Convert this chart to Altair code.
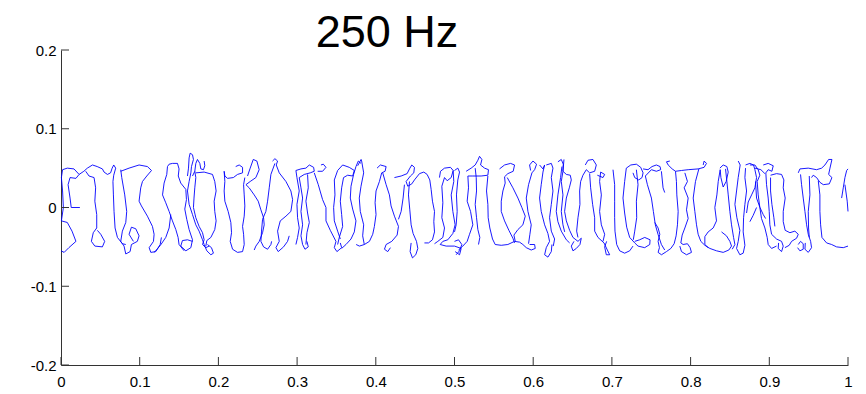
import altair as alt
import pandas as pd

title_text = "250 Hz"
x_ticks = [0, 0.1, 0.2, 0.3, 0.4, 0.5, 0.6, 0.7, 0.8, 0.9, 1.0]
y_ticks = [-0.2, -0.1, 0, 0.1, 0.2]

# traced path pieces (x, y)
s01 = [(0.000,-0.055),(0.004,-0.057),(0.010,-0.051),(0.019,-0.043),(0.014,-0.030),(0.008,-0.019),(0.0005,-0.017),(0.003,0.000),(0.002,0.021),(0.0005,0.038),(0.002,0.048),(0.008,0.050),(0.0165,0.049),(0.023,0.042),(0.019,0.037),(0.0115,0.038),(0.009,0.029),(0.0115,0.012),(0.013,0.000),(0.024,0.000)]
s02 = [(0.023,0.042),(0.029,0.046),(0.0335,0.050),(0.040,0.054),(0.046,0.052),(0.0526,0.049),(0.0547,0.045),(0.059,0.042),(0.063,0.044),(0.065,0.050),(0.067,0.054),(0.0695,0.050),(0.067,0.041),(0.066,0.033),(0.0666,0.016),(0.0674,-0.005),(0.0687,-0.026),(0.0717,-0.038),(0.078,-0.046),(0.0823,-0.047)]
s03 = [(0.0314,0.046),(0.0356,0.040),(0.042,0.038),(0.044,0.025),(0.043,0.008),(0.0454,-0.009),(0.0454,-0.026),(0.041,-0.032),(0.0386,-0.043),(0.043,-0.049),(0.0526,-0.050),(0.0555,-0.043),(0.0505,-0.034),(0.0462,-0.029)]
s04 = [(0.0759,0.046),(0.0865,0.050),(0.0992,0.054),(0.1098,0.052),(0.115,0.047),(0.109,0.040),(0.1035,0.033),(0.1013,0.025),(0.0992,0.008),(0.1022,0.002),(0.1098,-0.011),(0.1162,-0.024),(0.1183,-0.034),(0.1175,-0.043),(0.112,-0.051),(0.1141,-0.057),(0.1204,-0.056),(0.126,-0.047),(0.1276,-0.038)]
s05 = [(0.0759,0.048),(0.0772,0.038),(0.081,0.016),(0.0835,-0.005),(0.0823,-0.019),(0.078,-0.030),(0.0759,-0.043),(0.0801,-0.049),(0.0823,-0.059),(0.0878,-0.056),(0.0895,-0.047),(0.097,-0.043),(0.0992,-0.036),(0.095,-0.027),(0.0895,-0.025),(0.0865,-0.034),(0.092,-0.043)]
s06 = [(0.1353,0.052),(0.1374,0.055),(0.1416,0.056),(0.148,0.056),(0.150,0.049),(0.149,0.040),(0.1522,0.031),(0.1586,0.023),(0.1594,0.010),(0.1573,-0.002),(0.1598,-0.015),(0.1628,-0.028),(0.1671,-0.041),(0.165,-0.051),(0.1586,-0.055),(0.1522,-0.049),(0.1543,-0.042),(0.1607,-0.041),(0.1671,-0.043)]
s07 = [(0.1353,0.052),(0.1344,0.042),(0.131,0.031),(0.129,0.016),(0.1331,0.006),(0.1374,-0.005),(0.1416,-0.017),(0.1459,-0.028),(0.1488,-0.038),(0.150,-0.047),(0.1565,-0.055)]
s08 = [(0.1395,-0.009),(0.1374,-0.026),(0.1331,-0.038),(0.127,-0.047),(0.1204,-0.055),(0.118,-0.057)]
s09 = [(0.1607,0.040),(0.162,0.050),(0.1628,0.063),(0.1641,0.069),(0.1671,0.067),(0.1683,0.061),(0.1658,0.052),(0.165,0.044),(0.1628,0.033),(0.1607,0.021),(0.1628,0.004),(0.1671,-0.009),(0.1713,-0.022),(0.1755,-0.030),(0.1798,-0.041),(0.1819,-0.047),(0.1853,-0.055),(0.1904,-0.060),(0.1937,-0.058),(0.1912,-0.051),(0.1861,-0.047)]
s10 = [(0.1671,0.040),(0.170,0.046),(0.1713,0.056),(0.1734,0.061),(0.1764,0.056),(0.1777,0.049),(0.181,0.048),(0.1827,0.053),(0.1819,0.059)]
s11 = [(0.170,0.046),(0.1713,0.038),(0.170,0.025),(0.169,0.012),(0.1683,0.000),(0.1713,-0.013),(0.1755,-0.024),(0.1798,-0.032),(0.1819,-0.041),(0.1798,-0.047),(0.184,-0.051),(0.1882,-0.049)]
s12 = [(0.1713,0.044),(0.1819,0.045),(0.1925,0.042),(0.1954,0.033),(0.1971,0.021),(0.1946,0.008),(0.1954,-0.005),(0.1971,-0.017),(0.1954,-0.028),(0.1904,-0.038),(0.1853,-0.042),(0.184,-0.049)]
s13 = [(0.222,0.052),(0.2264,0.054),(0.2307,0.051),(0.2307,0.044),(0.2243,0.042),(0.219,0.038),(0.2116,0.037),(0.2082,0.040),(0.2073,0.046),(0.2082,0.033),(0.2073,0.021),(0.2082,0.008),(0.2124,-0.005),(0.2158,-0.019),(0.2167,-0.032),(0.215,-0.043),(0.218,-0.053),(0.2243,-0.057),(0.2307,-0.056),(0.2328,-0.047),(0.232,-0.034),(0.2307,-0.024),(0.2328,-0.011),(0.2336,0.002),(0.2328,0.016),(0.232,0.029),(0.2336,0.038)]
s14 = [(0.237,0.040),(0.2404,0.050),(0.2443,0.061),(0.2489,0.059),(0.2518,0.048),(0.2476,0.038),(0.2404,0.033),(0.235,0.029),(0.2391,0.025),(0.2455,0.016),(0.2506,0.008),(0.254,-0.003),(0.2574,-0.013),(0.2582,-0.022),(0.2561,-0.032),(0.2519,-0.043),(0.2476,-0.049),(0.2455,-0.054)]
s15 = [(0.2688,0.059),(0.2718,0.062),(0.2752,0.059),(0.2735,0.054),(0.2773,0.044),(0.2858,0.033),(0.2921,0.021),(0.2943,0.010),(0.2921,-0.005),(0.2858,-0.011),(0.2786,-0.017),(0.2752,-0.030),(0.2773,-0.043),(0.2731,-0.051),(0.276,-0.056),(0.2828,-0.050),(0.2879,-0.043),(0.29,-0.036)]
s16 = [(0.2718,0.056),(0.2667,0.042),(0.2646,0.025),(0.2625,0.008),(0.2603,-0.005),(0.2561,-0.015),(0.2548,-0.030),(0.254,-0.043),(0.2574,-0.050),(0.2625,-0.053),(0.2667,-0.047),(0.2676,-0.043)]
s17 = [(0.2985,0.047),(0.3049,0.049),(0.3112,0.050),(0.3155,0.054),(0.321,0.051),(0.3218,0.046),(0.3167,0.044),(0.3091,0.042),(0.3027,0.038),(0.3049,0.025),(0.307,0.012),(0.3049,-0.005),(0.307,-0.022),(0.3049,-0.036),(0.307,-0.047),(0.31,-0.053),(0.3142,-0.050),(0.3125,-0.043)]
s18 = [(0.3133,0.042),(0.3142,0.025),(0.3112,0.008),(0.3133,-0.007),(0.3155,-0.019),(0.3125,-0.032),(0.3112,-0.047)]
s19 = [(0.2985,0.047),(0.2998,0.038),(0.3027,0.021),(0.2998,0.004),(0.3006,-0.013),(0.3027,-0.026),(0.3006,-0.038),(0.2985,-0.047)]
s20 = [(0.3261,0.046),(0.3324,0.046),(0.3367,0.051),(0.3333,0.055),(0.3303,0.054)]
s21 = [(0.3218,0.044),(0.3269,0.029),(0.3324,0.010),(0.3367,0.000),(0.3367,-0.017),(0.3422,-0.029),(0.3494,-0.043),(0.3473,-0.051),(0.3506,-0.056),(0.3566,-0.051),(0.3549,-0.045)]
s22 = [(0.3473,0.035),(0.3515,0.047),(0.3579,0.054),(0.3663,0.051),(0.3727,0.047),(0.3706,0.040),(0.3642,0.041),(0.359,0.038),(0.3566,0.025),(0.3549,0.008),(0.3566,-0.009),(0.3579,-0.024),(0.3536,-0.038),(0.3515,-0.047)]
s23 = [(0.3473,0.035),(0.3481,0.016),(0.3464,0.000),(0.3473,-0.017),(0.3515,-0.030),(0.3549,-0.040)]
s24 = [(0.3812,0.056),(0.3778,0.059),(0.3748,0.052),(0.3718,0.042),(0.3685,0.027),(0.3676,0.012),(0.3706,-0.002),(0.3748,-0.017),(0.3727,-0.031),(0.3685,-0.040),(0.3621,-0.047),(0.3566,-0.052)]
s25 = [(0.3770,0.053),(0.3813,0.061),(0.382,0.059),(0.3846,0.044),(0.3812,0.027),(0.379,0.012),(0.3803,-0.005),(0.3846,-0.022),(0.3833,-0.036),(0.3854,-0.047)]
s26 = [(0.4016,0.050),(0.4058,0.054),(0.4131,0.052),(0.4118,0.046),(0.4075,0.044),(0.4046,0.033),(0.4003,0.021),(0.3991,0.006),(0.4003,-0.009),(0.3982,-0.024),(0.3961,-0.034),(0.3919,-0.043),(0.3855,-0.047),(0.3792,-0.049),(0.375,-0.047)]
s27 = [(0.4088,0.044),(0.4131,0.029),(0.4173,0.016),(0.4194,0.002),(0.4237,-0.011),(0.4288,-0.024),(0.4271,-0.035),(0.4203,-0.043),(0.4131,-0.047),(0.411,-0.053),(0.4152,-0.056),(0.4186,-0.051)]
s28 = [(0.4237,0.038),(0.4322,0.040),(0.4398,0.043),(0.4428,0.049),(0.4457,0.054),(0.4491,0.051),(0.4483,0.044),(0.444,0.040),(0.4385,0.033),(0.4406,0.027),(0.4457,0.030),(0.4491,0.035),(0.4555,0.043),(0.461,0.045),(0.4652,0.042),(0.4686,0.035),(0.4703,0.023),(0.472,0.008),(0.4746,-0.005),(0.4737,-0.018),(0.4746,-0.031),(0.472,-0.041),(0.467,-0.045),(0.4618,-0.045)]
s29 = [(0.4428,0.033),(0.4415,0.016),(0.4432,-0.003),(0.4449,-0.022),(0.4474,-0.033),(0.4517,-0.043),(0.4534,-0.052),(0.4508,-0.060),(0.4466,-0.064),(0.4436,-0.056),(0.4449,-0.045)]
s30 = [(0.4364,0.029),(0.4347,0.012),(0.4322,-0.005),(0.4288,-0.015)]
s31 = [(0.4809,0.038),(0.4822,0.046),(0.4873,0.050),(0.4949,0.051),(0.4983,0.047),(0.4958,0.038),(0.4907,0.034),(0.4873,0.038),(0.4839,0.027),(0.4852,0.006),(0.4839,-0.013),(0.4873,-0.026),(0.4852,-0.038),(0.4788,-0.043),(0.4746,-0.046)]
s32 = [(0.4983,0.047),(0.4991,0.033),(0.4958,0.016),(0.4979,-0.005),(0.5008,-0.022),(0.4979,-0.033),(0.4915,-0.041),(0.4852,-0.043),(0.4818,-0.047),(0.4894,-0.049),(0.5,-0.049),(0.5085,-0.052),(0.5064,-0.060),(0.5008,-0.056)]
s33 = [(0.5,0.047),(0.5042,0.050),(0.5064,0.045),(0.5042,0.035),(0.5025,0.016),(0.5034,-0.005),(0.5021,-0.022),(0.5,-0.031)]
s34 = [(0.5,-0.043),(0.5051,-0.041),(0.5093,-0.047),(0.5064,-0.055),(0.5021,-0.060)]
s35 = [(0.5148,0.046),(0.5212,0.050),(0.5263,0.054),(0.5297,0.060),(0.5318,0.065),(0.5348,0.061),(0.5331,0.054),(0.5382,0.050),(0.5432,0.048),(0.5424,0.041),(0.5339,0.040),(0.5233,0.040),(0.517,0.040),(0.5178,0.025),(0.5161,0.008),(0.5204,-0.005),(0.5233,-0.022),(0.5191,-0.034),(0.5161,-0.043),(0.5106,-0.049),(0.5051,-0.054)]
s36 = [(0.5263,0.050),(0.5276,0.038),(0.528,0.021),(0.5263,0.004),(0.528,-0.013),(0.5297,-0.028),(0.5322,-0.038),(0.5305,-0.047)]
s37 = [(0.5424,0.040),(0.5407,0.021),(0.5424,0.004),(0.5428,-0.013),(0.5449,-0.026),(0.5483,-0.040),(0.5517,-0.047),(0.5594,-0.048),(0.5678,-0.047),(0.5763,-0.043),(0.5827,-0.044),(0.5869,-0.047),(0.5912,-0.051),(0.5975,-0.054),(0.6026,-0.052),(0.6018,-0.047),(0.5954,-0.047)]
s38 = [(0.5572,0.049),(0.5636,0.054),(0.5712,0.056),(0.5763,0.054),(0.5746,0.046),(0.5678,0.043),(0.5636,0.039),(0.5644,0.031),(0.5615,0.021),(0.5594,0.008),(0.5594,-0.005),(0.5636,-0.017),(0.5691,-0.029),(0.5742,-0.039),(0.5763,-0.045)]
s39 = [(0.567,0.038),(0.5742,0.025),(0.5806,0.012),(0.5856,0.000),(0.5899,-0.011),(0.5869,-0.022),(0.5806,-0.028),(0.5755,-0.035),(0.5772,-0.043)]
s40 = [(0.5967,0.047),(0.5954,0.054),(0.5997,0.059),(0.6043,0.055),(0.6018,0.048),(0.5984,0.044),(0.5941,0.029),(0.5912,0.012),(0.5933,-0.005),(0.5975,-0.022),(0.5958,-0.034),(0.5941,-0.046)]
s41 = [(0.6081,0.054),(0.6124,0.049),(0.6145,0.054),(0.6124,0.045),(0.6102,0.029),(0.6081,0.012),(0.6102,-0.005),(0.6145,-0.022),(0.6187,-0.033),(0.6208,-0.043),(0.6166,-0.051),(0.6145,-0.060),(0.6187,-0.063),(0.623,-0.056),(0.6238,-0.047)]
s42 = [(0.6166,0.054),(0.623,0.056),(0.6251,0.050),(0.623,0.038),(0.6251,0.021),(0.623,0.004),(0.6208,-0.013),(0.623,-0.030),(0.6272,-0.040),(0.6255,-0.049)]
s43 = [(0.6391,0.061),(0.6378,0.046),(0.6357,0.033),(0.6378,0.016),(0.6357,-0.005),(0.6378,-0.022),(0.64,-0.031)]
s44 = [(0.6314,0.058),(0.6357,0.061),(0.6382,0.055),(0.6378,0.046),(0.6421,0.042),(0.6471,0.041),(0.6484,0.035),(0.6459,0.025),(0.6421,0.012),(0.6399,-0.005),(0.6421,-0.017),(0.6463,-0.029),(0.6505,-0.038),(0.6569,-0.043),(0.6611,-0.039),(0.6594,-0.047),(0.6548,-0.052),(0.6505,-0.055),(0.6484,-0.049),(0.6518,-0.043)]
s45 = [(0.6365,0.052),(0.6348,0.038),(0.6314,0.016),(0.6293,-0.005),(0.6314,-0.018),(0.6357,-0.030),(0.6421,-0.041),(0.6463,-0.045)]
s46 = [(0.6662,0.054),(0.6696,0.060),(0.6759,0.061),(0.6802,0.054),(0.6781,0.046),(0.6717,0.044),(0.6675,0.048),(0.6632,0.041),(0.6603,0.033),(0.659,0.021),(0.6594,0.004),(0.6569,-0.013),(0.6552,-0.030),(0.6569,-0.038)]
s47 = [(0.6717,0.043),(0.6730,0.025),(0.6755,0.004),(0.6781,-0.013),(0.6781,-0.030),(0.6823,-0.038),(0.69,-0.045),(0.6942,-0.054),(0.6972,-0.060),(0.6929,-0.060),(0.6908,-0.050),(0.6933,-0.043)]
s48 = [(0.6815,0.041),(0.6887,0.038),(0.6908,0.042),(0.6857,0.045),(0.6844,0.033),(0.6866,0.016),(0.6844,-0.005),(0.6866,-0.022),(0.6908,-0.034),(0.6887,-0.043)]
s49 = [(0.7014,0.048),(0.7035,0.029),(0.7035,0.008),(0.7035,-0.013),(0.7039,-0.030),(0.7061,-0.047),(0.7099,-0.055),(0.7162,-0.058),(0.7226,-0.055),(0.7268,-0.049)]
s50 = [(0.7268,0.044),(0.729,0.038),(0.7341,0.035),(0.7383,0.038),(0.7396,0.044),(0.7366,0.051),(0.7311,0.055),(0.724,0.054),(0.7183,0.050),(0.7162,0.033),(0.7141,0.012),(0.7162,-0.007),(0.7188,-0.025),(0.7226,-0.038),(0.729,-0.045),(0.7332,-0.049),(0.7417,-0.051),(0.7481,-0.047),(0.7485,-0.041),(0.7417,-0.038),(0.7353,-0.041),(0.729,-0.043)]
s51 = [(0.7311,0.048),(0.7332,0.029),(0.7311,0.008),(0.7315,-0.013),(0.729,-0.030),(0.7272,-0.041)]
s52 = [(0.7396,0.049),(0.7459,0.048),(0.7510,0.052),(0.7565,0.054),(0.7612,0.052),(0.7620,0.048),(0.7565,0.046),(0.7502,0.048),(0.7425,0.040),(0.7451,0.029),(0.7502,0.012),(0.7527,-0.005),(0.7552,-0.022),(0.7586,-0.034),(0.7629,-0.047),(0.7671,-0.054)]
s53 = [(0.7629,0.046),(0.765,0.025),(0.7671,0.019)]
s54 = [(0.7545,-0.019),(0.7587,-0.026),(0.7609,-0.034),(0.7587,-0.043),(0.7604,-0.051),(0.7587,-0.057),(0.763,-0.060),(0.7693,-0.056),(0.7749,-0.052),(0.7791,-0.046),(0.7816,-0.036),(0.7833,-0.022),(0.7842,-0.005),(0.7825,0.016),(0.782,0.033),(0.7808,0.046),(0.7766,0.049),(0.7715,0.054),(0.7693,0.058),(0.7736,0.059)]
s55 = [(0.7808,0.046),(0.7884,0.047),(0.7969,0.048),(0.8096,0.049),(0.8172,0.051),(0.8202,0.056),(0.8172,0.059),(0.8160,0.054)]
s56 = [(0.7927,0.044),(0.796,0.033),(0.7918,0.025),(0.7969,0.012),(0.7948,-0.003),(0.7969,-0.014),(0.7927,-0.026),(0.7893,-0.035),(0.7876,-0.045),(0.7905,-0.047),(0.7960,-0.046),(0.7994,-0.051),(0.8011,-0.057),(0.7948,-0.060),(0.7884,-0.056),(0.7863,-0.049)]
s57 = [(0.8105,0.049),(0.8062,0.033),(0.8033,0.012),(0.8054,-0.005),(0.8075,-0.022),(0.8096,-0.034),(0.813,-0.043),(0.8181,-0.048),(0.8245,-0.052),(0.833,-0.055),(0.8414,-0.057),(0.8486,-0.054),(0.852,-0.049),(0.8499,-0.043),(0.8456,-0.036),(0.8393,-0.031)]
s58 = [(0.8372,0.050),(0.8414,0.054),(0.8461,0.052),(0.8478,0.045),(0.8452,0.033),(0.8414,0.026),(0.8385,0.038),(0.8376,0.048),(0.8351,0.033),(0.8334,0.016),(0.8308,0.000),(0.8329,-0.017),(0.8287,-0.026),(0.8223,-0.031),(0.8181,-0.037),(0.8181,-0.047),(0.8223,-0.051)]
s59 = [(0.8444,0.049),(0.8461,0.033),(0.8478,0.016),(0.8499,-0.005),(0.852,-0.022),(0.8546,-0.038),(0.8563,-0.047),(0.8529,-0.053)]
s60 = [(0.8605,0.059),(0.863,0.054),(0.8605,0.038),(0.8584,0.021),(0.8563,0.004),(0.8588,-0.013),(0.8626,-0.029),(0.8605,-0.043),(0.8584,-0.052),(0.8626,-0.060),(0.8668,-0.058),(0.869,-0.048),(0.8668,-0.031),(0.8673,-0.013),(0.869,0.004),(0.8711,0.021),(0.869,0.038),(0.8698,0.050)]
s61 = [(0.8698,0.054),(0.8753,0.056),(0.88,0.054),(0.8817,0.048),(0.8838,0.038),(0.8817,0.025),(0.8775,0.016),(0.8732,0.007),(0.8711,-0.007)]
s62 = [(0.8817,0.050),(0.8893,0.048),(0.8944,0.043)]
s63 = [(0.8825,0.033),(0.8838,0.012),(0.8881,0.000),(0.8923,-0.009),(0.8953,-0.014)]
s64 = [(0.8753,0.054),(0.8817,0.054),(0.8859,0.048),(0.888,0.041),(0.8846,0.033),(0.8859,0.016),(0.888,0.000),(0.8901,-0.014),(0.8944,-0.026),(0.8973,-0.038),(0.8986,-0.047),(0.9029,-0.052),(0.9092,-0.049)]
s65 = [(0.8753,-0.018),(0.8795,-0.010),(0.8838,0.000)]
s66 = [(0.8923,0.054),(0.8986,0.056),(0.905,0.053),(0.9033,0.046),(0.8986,0.048),(0.8956,0.044),(0.8965,0.029),(0.8986,0.012),(0.8999,-0.005),(0.9007,-0.022),(0.9029,-0.034),(0.9092,-0.040),(0.9156,-0.043),(0.9177,-0.049),(0.9156,-0.056),(0.9113,-0.052),(0.9118,-0.045)]
s67 = [(0.9016,0.041),(0.9092,0.043),(0.9156,0.042),(0.9185,0.035),(0.9177,0.025),(0.9202,0.012),(0.9177,-0.005),(0.9177,-0.018),(0.9202,-0.029),(0.9262,-0.032),(0.9325,-0.030),(0.9368,-0.034),(0.9347,-0.039),(0.9283,-0.043),(0.9253,-0.048),(0.9198,-0.051)]
s68 = [(0.9016,0.038),(0.9016,0.021),(0.9033,0.004),(0.9058,-0.013),(0.9071,-0.024)]
s69 = [(0.9368,0.044),(0.9389,0.049),(0.9495,0.050),(0.9601,0.048),(0.9665,0.050),(0.9707,0.054),(0.9754,0.061),(0.9796,0.061),(0.9771,0.050),(0.9754,0.042),(0.9796,0.038),(0.9762,0.030),(0.9686,0.029),(0.9643,0.032),(0.9601,0.038),(0.9558,0.041),(0.9537,0.038)]
s70 = [(0.9397,0.042),(0.941,0.029),(0.9431,0.012),(0.9453,-0.005),(0.9474,-0.022),(0.9495,-0.034),(0.9525,-0.043),(0.9537,-0.051),(0.9495,-0.057),(0.9453,-0.053),(0.9457,-0.045)]
s71 = [(0.9368,-0.047),(0.9397,-0.043),(0.9431,-0.046),(0.9431,-0.053),(0.9389,-0.055),(0.9359,-0.051)]
s72 = [(0.9508,0.040),(0.9516,0.016),(0.9495,-0.005),(0.9499,-0.026),(0.9508,-0.038)]
s73 = [(0.9622,0.034),(0.9643,0.016),(0.9643,-0.005),(0.9652,-0.022),(0.9669,-0.038),(0.9728,-0.045),(0.9792,-0.047),(0.9855,-0.050),(0.994,-0.051),(1.0,-0.049)]
s74 = [(1.0,0.049),(0.9983,0.047),(0.9961,0.038),(0.994,0.025),(0.9919,0.012)]
s75 = [(0.9961,0.029),(0.999,0.008),(1.0,-0.005)]

pieces = [s01, s02, s03, s04, s05, s06, s07, s08, s09, s10, s11, s12, s13, s14, s15,
          s16, s17, s18, s19, s20, s21, s22, s23, s24, s25, s26, s27, s28, s29, s30,
          s31, s32, s33, s34, s35, s36, s37, s38, s39, s40, s41, s42, s43, s44, s45,
          s46, s47, s48, s49, s50, s51, s52, s53, s54, s55, s56, s57, s58, s59, s60,
          s61, s62, s63, s64, s65, s66, s67, s68, s69, s70, s71, s72, s73, s74, s75]

rows = []
for k, piece in enumerate(pieces):
    for i, (px, py) in enumerate(piece):
        rows.append({"seg": k, "order": i, "x": px, "y": py})
df = pd.DataFrame(rows)

W, H = 787, 315
FONT = "Liberation Sans"
xs = alt.Scale(domain=[0, 1], nice=False, zero=False)
ys = alt.Scale(domain=[-0.2, 0.2], nice=False, zero=False)

x_label = "datum.value == 0 ? '0' : datum.value == 1 ? '1' : format(datum.value, '.1f')"
y_label = "datum.value == 0 ? '0' : replace(format(datum.value, '.1f'), '\u2212', '-')"

x_axis = alt.Axis(values=x_ticks, ticks=False, grid=False, title=None,
                  labelExpr=x_label, labelPadding=9, labelFlush=False,
                  labelFont=FONT, labelFontSize=15, labelColor="black",
                  domain=True, domainColor="#333333", domainWidth=1)
y_axis = alt.Axis(values=y_ticks, ticks=False, grid=False, title=None,
                  labelExpr=y_label, labelPadding=5, labelFlush=False,
                  labelFont=FONT, labelFontSize=15, labelColor="black",
                  domain=True, domainColor="#333333", domainWidth=1)

line = alt.Chart(df).mark_line(color="#0000ff", strokeWidth=0.9).encode(
    x=alt.X("x:Q", scale=xs, axis=x_axis),
    y=alt.Y("y:Q", scale=ys, axis=y_axis),
    detail="seg:N",
    order="order:Q",
)

xt = alt.Chart(pd.DataFrame({"t": x_ticks})).mark_rule(color="#333333", strokeWidth=1).encode(
    x=alt.X("t:Q", scale=xs, axis=x_axis), y=alt.value(H), y2=alt.value(H - 8))
yt = alt.Chart(pd.DataFrame({"t": y_ticks})).mark_rule(color="#333333", strokeWidth=1).encode(
    y=alt.Y("t:Q", scale=ys, axis=y_axis), x=alt.value(0), x2=alt.value(8))

title = alt.Chart(pd.DataFrame({"t": [title_text]})).mark_text(
    font=FONT, fontSize=45, color="black", align="center", baseline="alphabetic"
).encode(text="t:N", x=alt.value(326), y=alt.value(-3))

chart = alt.layer(line, xt, yt, title).properties(
    width=W, height=H,
    autosize=alt.AutoSizeParams(type="none"),
    padding={"left": 61, "top": 50, "right": 18, "bottom": 29},
    background="white",
).configure_view(stroke=None)

chart.save("out.html", embed_options={"renderer": "svg", "actions": False})
